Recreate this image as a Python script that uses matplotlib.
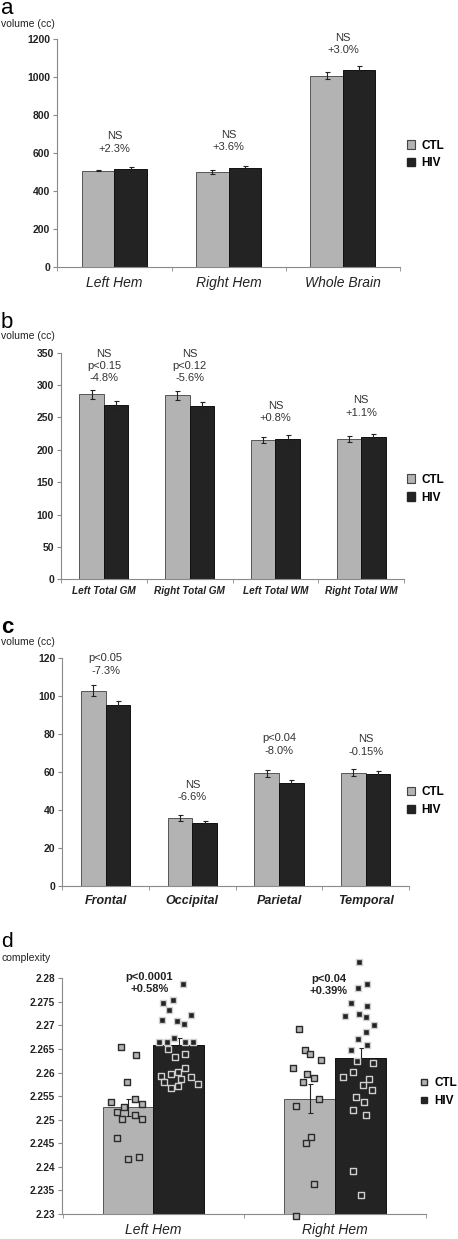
import numpy as np
import matplotlib.pyplot as plt
from matplotlib.patches import Patch
from matplotlib.lines import Line2D

plt.rcParams['font.family'] = ['Liberation Sans', 'DejaVu Sans']

# ---- panel a : hemisphere / whole brain volume (cc)
cats_a = ["Left Hem", "Right Hem", "Whole Brain"]
ctl_a = [506, 501, 1007]
hiv_a = [515, 518, 1037]
ctl_err_a = [4, 10, 17]
hiv_err_a = [12, 12, 20]
notes_a = ["NS\n+2.3%", "NS\n+3.6%", "NS\n+3.0%"]

# ---- panel b : total GM / WM volume (cc)
cats_b = ["Left Total GM", "Right Total GM", "Left Total WM", "Right Total WM"]
ctl_b = [285.7, 284.6, 214.6, 217.2]
hiv_b = [269.2, 267.1, 216.2, 219.8]
ctl_err_b = [6.7, 7.0, 4.6, 4.5]
hiv_err_b = [6.7, 6.5, 6.0, 5.0]
notes_b = ["NS\np<0.15\n-4.8%", "NS\np<0.12\n-5.6%", "NS\n+0.8%", "NS\n+1.1%"]

# ---- panel c : lobar volume (cc)
cats_c = ["Frontal", "Occipital", "Parietal", "Temporal"]
ctl_c = [102.6, 35.8, 59.3, 59.5]
hiv_c = [95.0, 33.2, 54.3, 59.1]
ctl_err_c = [2.8, 1.5, 1.8, 1.8]
hiv_err_c = [2.4, 1.2, 1.4, 1.3]
notes_c = ["p<0.05\n-7.3%", "NS\n-6.6%", "p<0.04\n-8.0%", "NS\n-0.15%"]

# ---- panel d : cortical complexity
cats_d = ["Left Hem", "Right Hem"]
ctl_d = [2.2526, 2.2545]
hiv_d = [2.2658, 2.2631]
ctl_err_d = [0.0018, 0.0030]
hiv_err_d = [0.0015, 0.0022]
notes_d = ["p<0.0001\n+0.58%", "p<0.04\n+0.39%"]

ctl_left = [2.2654, 2.2638, 2.2580, 2.2537, 2.2544, 2.2533, 2.2526, 2.2517,
            2.2501, 2.2509, 2.2501, 2.2461, 2.2417, 2.2421]
ctl_left_dx = [-0.178, -0.095, -0.146, -0.234, -0.103, -0.063, -0.162, -0.202,
               -0.173, -0.101, -0.063, -0.202, -0.142, -0.079]
hiv_left = [2.2787, 2.2747, 2.2755, 2.2733, 2.2712, 2.2710, 2.2703, 2.2722,
            2.2664, 2.2664, 2.2673, 2.2665, 2.2665,
            2.2651, 2.2633, 2.2639, 2.2593, 2.2596, 2.2601, 2.2609, 2.2580,
            2.2587, 2.2590, 2.2575, 2.2567, 2.2572]
hiv_left_dx = [0.162, 0.050, 0.106, 0.085, 0.045, 0.130, 0.169, 0.205,
               0.032, 0.077, 0.114, 0.175, 0.216,
               0.081, 0.117, 0.175, 0.040, 0.097, 0.137, 0.175, 0.056,
               0.150, 0.207, 0.243, 0.099, 0.137]
ctl_right = [2.2692, 2.2647, 2.2639, 2.2627, 2.2610, 2.2598, 2.2588, 2.2581,
             2.2543, 2.2530, 2.2464, 2.2450, 2.2363, 2.2295]
ctl_right_dx = [-0.198, -0.168, -0.139, -0.076, -0.232, -0.157, -0.114, -0.175,
                -0.090, -0.216, -0.133, -0.159, -0.117, -0.214]
hiv_right = [2.2834, 2.2780, 2.2787, 2.2747, 2.2741, 2.2719, 2.2724, 2.2717,
             2.2701, 2.2686, 2.2671, 2.2659, 2.2648,
             2.2625, 2.2621, 2.2591, 2.2601, 2.2586, 2.2573, 2.2564, 2.2549,
             2.2537, 2.2521, 2.2509, 2.2391, 2.2340]
hiv_right_dx = [0.133, 0.128, 0.177, 0.088, 0.175, 0.054, 0.132, 0.169,
                0.216, 0.168, 0.124, 0.175, 0.088,
                0.119, 0.207, 0.045, 0.097, 0.186, 0.155, 0.205, 0.117,
                0.157, 0.097, 0.168, 0.097, 0.144]

CTL_COL = '#b3b3b3'
HIV_COL = '#232323'
AX_COL = '#8a8a8a'

W, H = 458, 1239
fig = plt.figure(figsize=(W / 100, H / 100), dpi=100)


def px_axes(l, t, r, b):
    return fig.add_axes([l / W, 1 - b / H, (r - l) / W, (b - t) / H])


def frame(ax, cats, ticks, ticklabels, ysize, labsize, labstyle, labweight, labpad):
    for s in ['top', 'right']:
        ax.spines[s].set_visible(False)
    for s in ['left', 'bottom']:
        ax.spines[s].set_color(AX_COL)
        ax.spines[s].set_linewidth(0.8)
    n = len(cats)
    ax.set_xticks(np.arange(n), labels=cats, fontsize=labsize, fontstyle=labstyle,
                  fontweight=labweight, color='#222222')
    ax.set_xticks(np.arange(n + 1) - 0.5, minor=True)
    ax.set_yticks(ticks, labels=ticklabels, fontsize=ysize, fontweight='bold',
                  color='#222222')
    ax.tick_params(axis='x', which='major', length=0, pad=labpad)
    ax.tick_params(axis='x', which='minor', length=3, color=AX_COL)
    ax.tick_params(axis='y', length=3, color=AX_COL, pad=2)


def legend(ax, xpx, ypx, handles):
    ax.legend(handles, ['CTL', 'HIV'], loc='center left',
              bbox_to_anchor=(xpx / W, 1 - ypx / H), bbox_transform=fig.transFigure,
              frameon=False, borderpad=0, borderaxespad=0, handlelength=0.7,
              handleheight=0.7, handletextpad=0.5, labelspacing=0.5,
              prop={'weight': 'bold', 'size': 8.5})


bar_handles = [Patch(facecolor=CTL_COL, edgecolor='#444444', linewidth=0.8),
               Patch(facecolor=HIV_COL, edgecolor=HIV_COL)]


def bar_panel(ax, cats, ctl, hiv, ctl_err, hiv_err, notes, ymax, step,
              labsize, labweight, labpad, notes_y):
    x = np.arange(len(cats))
    w = 0.285
    ax.bar(x - w / 2, ctl, w, color=CTL_COL, edgecolor='#555555', linewidth=0.7, zorder=2)
    ax.bar(x + w / 2, hiv, w, color=HIV_COL, edgecolor='#111111', linewidth=0.7, zorder=2)
    ax.errorbar(x - w / 2, ctl, yerr=ctl_err, fmt='none', ecolor='#222222',
                elinewidth=0.8, capsize=1.8, capthick=0.8, zorder=3)
    ax.errorbar(x + w / 2, hiv, yerr=hiv_err, fmt='none', ecolor='#222222',
                elinewidth=0.8, capsize=1.8, capthick=0.8, zorder=3)
    for xi, t, y in zip(x, notes, notes_y):
        ax.text(xi, y, t, ha='center', va='center', fontsize=8,
                color='#333333', linespacing=1.3)
    ax.set_xlim(-0.5, len(cats) - 0.5)
    ax.set_ylim(0, ymax)
    yt = np.arange(0, ymax + 1, step)
    frame(ax, cats, yt, [f'{v:g}' for v in yt], 7.5, labsize, 'italic', labweight, labpad)


# panel a
ax_a = px_axes(57.3, 39, 400, 266.7)
bar_panel(ax_a, cats_a, ctl_a, hiv_a, ctl_err_a, hiv_err_a, notes_a, 1200, 200,
          10, 'normal', 6.5, [655, 662, 1175])
legend(ax_a, 407, 154.5, bar_handles)
fig.text(0.002, 1 - 14 / H, 'a', fontsize=16)
fig.text(0.002, 1 - 27 / H, 'volume (cc)', fontsize=7.5, color='#222222')

# panel b
ax_b = px_axes(61, 352.7, 404, 579.3)
bar_panel(ax_b, cats_b, ctl_b, hiv_b, ctl_err_b, hiv_err_b, notes_b, 350, 50,
          7.2, 'bold', 5, [329.4, 329.4, 258.6, 267.2])
legend(ax_b, 407, 488.7, bar_handles)
fig.text(0.002, 1 - 328 / H, 'b', fontsize=16)
fig.text(0.002, 1 - 339 / H, 'volume (cc)', fontsize=7.5, color='#222222')

# panel c
ax_c = px_axes(62.3, 657.7, 409, 886)
bar_panel(ax_c, cats_c, ctl_c, hiv_c, ctl_err_c, hiv_err_c, notes_c, 120, 20,
          9, 'bold', 6.5, [116.5, 49.8, 74.3, 73.8])
legend(ax_c, 407, 801.3, bar_handles)
fig.text(0.002, 1 - 633 / H, 'c', fontsize=16, weight='bold')
fig.text(0.002, 1 - 645 / H, 'volume (cc)', fontsize=7.5, color='#222222')

# panel d
ax_d = px_axes(61.7, 978.3, 426, 1214)
xd = np.arange(len(cats_d))
w = 0.28
ax_d.bar(xd - w / 2, ctl_d, w, color=CTL_COL, edgecolor='#555555', linewidth=0.7, zorder=1)
ax_d.bar(xd + w / 2, hiv_d, w, color=HIV_COL, edgecolor='#111111', linewidth=0.7, zorder=1)
ax_d.errorbar(xd - w / 2, ctl_d, yerr=ctl_err_d, fmt='none', ecolor='#222222',
              elinewidth=0.8, capsize=1.8, capthick=0.8, zorder=2)
ax_d.errorbar(xd + w / 2, hiv_d, yerr=hiv_err_d, fmt='none', ecolor='#222222',
              elinewidth=0.8, capsize=1.8, capthick=0.8, zorder=2)

ctl_style = dict(marker='s', s=19, facecolor=CTL_COL, edgecolor='#2a2a2a',
                 linewidth=1.0, zorder=3, clip_on=False)
hiv_style = dict(marker='s', s=19, facecolor=HIV_COL, edgecolor='#cfcfcf',
                 linewidth=1.0, zorder=3, clip_on=False)
ax_d.scatter(0 + np.array(ctl_left_dx), ctl_left, **ctl_style)
ax_d.scatter(0 + np.array(hiv_left_dx), hiv_left, **hiv_style)
ax_d.scatter(1 + np.array(ctl_right_dx), ctl_right, **ctl_style)
ax_d.scatter(1 + np.array(hiv_right_dx), hiv_right, **hiv_style)

for xi, t, y in zip([-0.023, 0.964], notes_d, [2.279, 2.2786]):
    ax_d.text(xi, y, t, ha='center', va='center', fontsize=8, weight='bold',
              color='#222222', linespacing=1.3)

ax_d.set_xlim(-0.505, 1.465)
ax_d.set_ylim(2.23, 2.28)
ticks_d = np.round(np.linspace(2.23, 2.28, 11), 3)
frame(ax_d, cats_d, ticks_d, [f'{v:g}' for v in ticks_d], 7.2, 10, 'italic', 'normal', 6.5)

d_handles = [Line2D([], [], ls='none', marker='s', markersize=5, markerfacecolor=CTL_COL,
                    markeredgecolor='#2a2a2a', markeredgewidth=1.0),
             Line2D([], [], ls='none', marker='s', markersize=4, markerfacecolor=HIV_COL,
                    markeredgecolor=HIV_COL)]
legend(ax_d, 420, 1092, d_handles)
fig.text(0.002, 1 - 947 / H, 'd', fontsize=15)
fig.text(0.004, 1 - 961 / H, 'complexity', fontsize=7.5, color='#222222')

fig.savefig('out.png', dpi=100)
